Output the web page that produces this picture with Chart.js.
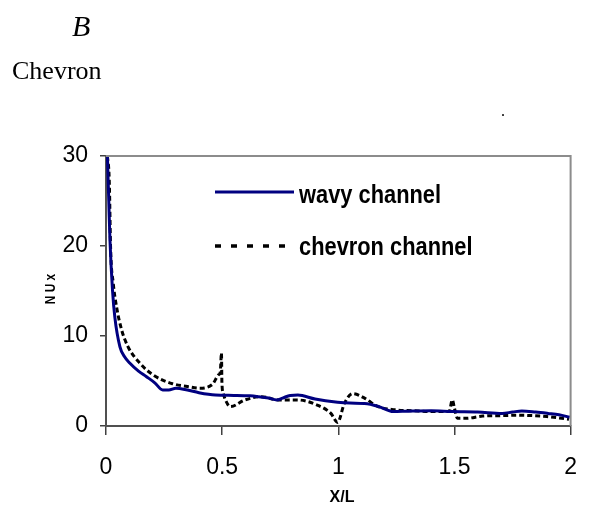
<!DOCTYPE html>
<html><head><meta charset="utf-8">
<script src="https://cdn.jsdelivr.net/npm/chart.js@4.4.1/dist/chart.umd.min.js"></script>
<style>
html,body{margin:0;padding:0;background:#fff;width:596px;height:529px;overflow:hidden;}
#wrap{position:relative;width:596px;height:529px;}
canvas{position:absolute;left:0;top:0;}
.t{position:absolute;white-space:nowrap;color:#000;line-height:1;}
.lg{font-weight:bold;font-size:26px;font-family:'Liberation Sans',Arial,sans-serif;transform-origin:0 0;transform:scaleX(0.84);}
</style></head><body>
<div id="wrap">
<canvas id="c" width="596" height="529"></canvas>
<div class="t" style="left:72px;top:11px;font-style:italic;font-size:30px;font-family:'Liberation Serif','Times New Roman',serif;">B</div>
<div class="t" style="left:12px;top:58px;font-size:26px;font-family:'Liberation Serif','Times New Roman',serif;">Chevron</div>
<div class="t" style="left:501px;top:103px;font-size:16px;font-family:'Liberation Serif',serif;">.</div>
<svg style="position:absolute;left:0;top:0" width="596" height="529">
  <line x1="215" y1="192" x2="294" y2="192" stroke="#000080" stroke-width="3"/>
  <line x1="215" y1="246" x2="290" y2="246" stroke="#000" stroke-width="3.5" stroke-dasharray="6,10"/>
</svg>
<div class="t lg" style="left:299px;top:181px;">wavy channel</div>
<div class="t lg" style="left:299px;top:233px;">chevron channel</div>
<div class="t" style="left:50px;top:289px;transform:translate(-50%,-50%) rotate(-90deg) scaleX(0.85);font-weight:bold;font-size:14px;font-family:'Liberation Sans',Arial,sans-serif;">N U x</div>
<div class="t" style="left:342px;top:489px;transform:translateX(-50%);font-weight:bold;font-size:16px;font-family:'Liberation Sans',Arial,sans-serif;">X/L</div>
</div>
<script>
// ---- data ----
const xTicks = [0, 0.5, 1, 1.5, 2];
const yTicks = [0, 10, 20, 30];

const wavyX = [0.006, 0.012, 0.017, 0.028, 0.038, 0.06, 0.08, 0.102, 0.14, 0.173, 0.21, 0.244, 0.27, 0.301, 0.35, 0.4, 0.471, 0.55, 0.62, 0.655, 0.7, 0.735, 0.76, 0.793, 0.826, 0.9, 0.997, 1.05, 1.113, 1.17, 1.237, 1.3, 1.4, 1.492, 1.6, 1.705, 1.75, 1.79, 1.85, 1.903, 1.95, 1.996];
const wavyY = [30, 25, 20.7, 15.1, 12.1, 8.8, 7.7, 7.0, 6.1, 5.5, 4.8, 4.0, 4.0, 4.2, 4.0, 3.7, 3.44, 3.4, 3.35, 3.26, 3.1, 2.9, 3.1, 3.4, 3.44, 3.0, 2.65, 2.55, 2.5, 2.2, 1.6, 1.65, 1.7, 1.6, 1.55, 1.4, 1.55, 1.67, 1.55, 1.4, 1.25, 0.97];

const chevX = [0.006, 0.014, 0.02, 0.031, 0.045, 0.067, 0.095, 0.145, 0.201, 0.286, 0.35, 0.4, 0.457, 0.485, 0.492, 0.497, 0.499, 0.505, 0.514, 0.535, 0.599, 0.669, 0.74, 0.822, 0.909, 0.968, 0.997, 1.026, 1.062, 1.113, 1.171, 1.244, 1.32, 1.404, 1.477, 1.491, 1.499, 1.513, 1.549, 1.622, 1.7, 1.768, 1.84, 1.898, 1.993];
const chevY = [30, 27.3, 19.6, 15.9, 13.3, 10.7, 8.8, 7.0, 5.7, 4.7, 4.4, 4.2, 4.6, 5.7, 6.0, 8.1, 4.8, 3.6, 2.9, 2.15, 2.9, 3.26, 2.9, 2.9, 2.33, 1.4, 0.4, 2.5, 3.6, 3.1, 2.15, 1.8, 1.7, 1.6, 1.6, 2.9, 2.1, 0.85, 0.85, 1.1, 1.15, 1.2, 1.15, 1.05, 0.75];

const pts = (xs, ys) => xs.map((x, i) => ({x: x, y: ys[i]}));

const frame = {
  id: 'frame',
  afterDraw(chart) {
    const a = chart.chartArea, ctx = chart.ctx;
    ctx.save();
    ctx.strokeStyle = '#8c8c8c';
    ctx.lineWidth = 2;
    ctx.beginPath();
    ctx.moveTo(a.left, a.top);
    ctx.lineTo(a.right, a.top);
    ctx.lineTo(a.right, a.bottom);
    ctx.stroke();
    ctx.restore();
  }
};

const tickFont = {family: "'Liberation Sans',Arial,sans-serif", size: 23};

new Chart(document.getElementById('c'), {
  type: 'line',
  data: {
    datasets: [
      {label: 'wavy channel', data: pts(wavyX, wavyY), borderColor: '#000080', borderWidth: 3, cubicInterpolationMode: 'monotone', pointRadius: 0, fill: false},
      {label: 'chevron channel', data: pts(chevX, chevY), borderColor: '#000', borderWidth: 3, borderDash: [5, 3], cubicInterpolationMode: 'monotone', pointRadius: 0, fill: false}
    ]
  },
  options: {
    responsive: false,
    animation: false,
    layout: {padding: {top: 156, right: 20, left: 0, bottom: 0}},
    plugins: {legend: {display: false}, tooltip: {enabled: false}},
    scales: {
      x: {
        type: 'linear', min: 0, max: 2,
        afterBuildTicks: s => { s.ticks = xTicks.map(v => ({value: v})); },
        afterFit: s => { s.height = 103; },
        grid: {drawOnChartArea: false, drawTicks: true, tickLength: 9, color: '#404040', lineWidth: 1.5},
        border: {display: true, color: '#505050', width: 2},
        ticks: {font: tickFont, color: '#000', padding: 19, maxRotation: 0, autoSkip: false, callback: v => String(v)}
      },
      y: {
        min: 0, max: 30,
        afterBuildTicks: s => { s.ticks = yTicks.map(v => ({value: v})); },
        afterFit: s => { s.width = 106; },
        grid: {drawOnChartArea: false, drawTicks: true, tickLength: 6, color: '#404040', lineWidth: 1.5},
        border: {display: true, color: '#505050', width: 2},
        ticks: {font: tickFont, color: '#000', padding: 12, autoSkip: false, callback: v => String(v)}
      }
    }
  },
  plugins: [frame]
});
</script>
</body></html>
